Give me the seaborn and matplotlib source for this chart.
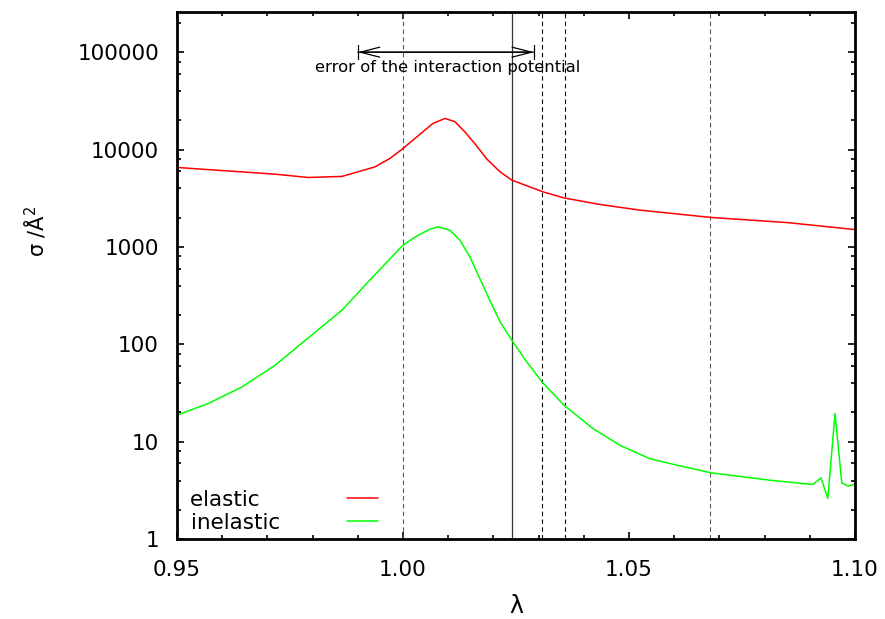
"""
Elastic / inelastic cross section vs lambda (log scale), gnuplot-style look.
"""
import numpy as np
import pandas as pd
import matplotlib
matplotlib.use('Agg')
import matplotlib.pyplot as plt
import matplotlib.ticker as mticker
import seaborn as sns

# --- Data ---
lam_el = [0.95, 0.9644, 0.9717, 0.979, 0.9865, 0.9938, 0.9971, 1.0, 1.0022,
          1.0044, 1.0066, 1.0093, 1.0115, 1.0137, 1.0159, 1.0186, 1.0215,
          1.0241, 1.031, 1.0356, 1.0436, 1.0524, 1.0681, 1.085, 1.1]
sig_el = [6550, 5900, 5590, 5170, 5300, 6640, 8100, 10260, 12500,
          15200, 18500, 20900, 19300, 15200, 11500, 7950, 5900,
          4850, 3680, 3190, 2730, 2390, 2010, 1780, 1510]

lam_in = [0.95, 0.9569, 0.9644, 0.9717, 0.979, 0.9865, 0.9923, 0.9960, 1.0,
          1.0031, 1.0060, 1.0077, 1.0104, 1.0126, 1.0148, 1.0170, 1.0192,
          1.0215, 1.0241, 1.0274, 1.0308, 1.0356, 1.0420, 1.0480, 1.0546,
          1.0606, 1.0657, 1.0681, 1.0812, 1.0907, 1.0925, 1.094, 1.0956,
          1.0971, 1.0985, 1.1]
sig_in = [18.8, 24.7, 36.6, 61, 116, 224, 438, 666, 1043,
          1300, 1524, 1610, 1487, 1175, 791, 475, 284,
          170, 110, 66, 41, 23.8, 13.7, 9.2, 6.7,
          5.75, 5.1, 4.8, 4.03, 3.64, 4.26, 2.62, 19.5,
          3.78, 3.5, 3.67]

vlines_dashed = [1.0, 1.0307, 1.0358, 1.0679]
vline_solid = 1.0241
err_range = (0.990, 1.029)
err_text = 'error of the interaction potential'

x_ticks = [0.95, 1.00, 1.05, 1.10]
y_ticks = [1, 10, 100, 1000, 10000, 100000]

sns.set_style('ticks')
plt.rcParams['font.family'] = ['DejaVu Sans']
plt.rcParams['mathtext.fontset'] = 'dejavusans'
plt.rcParams['text.color'] = 'black'
plt.rcParams['axes.labelcolor'] = 'black'

df_el = pd.DataFrame({'lam': lam_el, 'sigma': sig_el})
df_in = pd.DataFrame({'lam': lam_in, 'sigma': sig_in})

fig = plt.figure(figsize=(8.85, 6.19), dpi=100)
ax = fig.add_axes([0.2, 0.129, 0.766, 0.852])

sns.lineplot(data=df_el, x='lam', y='sigma', ax=ax, color='#ff0000',
             linewidth=1.1, label='elastic\u00a0\u00a0\u00a0', sort=False,
             estimator=None)
sns.lineplot(data=df_in, x='lam', y='sigma', ax=ax, color='#00ff00',
             linewidth=1.1, label='inelastic', sort=False, estimator=None)

for i, xv in enumerate(vlines_dashed):
    c = '#555555' if i in (0, 3) else 'black'
    ax.axvline(xv, color=c, linestyle=(0, (4, 3)), linewidth=0.8, zorder=1)
ax.axvline(vline_solid, color='#333333', linewidth=0.9, zorder=1)

# error arrow
ax.annotate('', xy=(err_range[0], 1e5), xytext=(err_range[1], 1e5),
            arrowprops=dict(arrowstyle='<->,head_length=0.7,head_width=0.18',
                            color='black', lw=0.9, shrinkA=0, shrinkB=0,
                            mutation_scale=20))
ax.annotate('', xy=(err_range[0], 1e5), xytext=(err_range[1], 1e5),
            arrowprops=dict(arrowstyle='|-|,widthA=0.25,widthB=0.25',
                            color='black', lw=0.9, shrinkA=0, shrinkB=0,
                            mutation_scale=20))
ax.text(np.mean(err_range) + 0.0003, 6.9e4, err_text, ha='center', va='center',
        fontsize=11.8)

ax.set_yscale('log')
ax.set_xlim(0.95, 1.10)
ax.set_ylim(1, 2.6e5)

ax.set_xticks(x_ticks)
ax.xaxis.set_major_formatter(mticker.FormatStrFormatter('%.2f'))
ax.xaxis.set_minor_locator(mticker.MultipleLocator(0.01))
ax.yaxis.set_major_locator(mticker.FixedLocator(y_ticks))
ax.yaxis.set_major_formatter(mticker.FixedFormatter([str(v) for v in y_ticks]))
ax.yaxis.set_minor_locator(mticker.LogLocator(base=10, subs=(2, 4, 6, 8)))
ax.yaxis.set_minor_formatter(mticker.NullFormatter())

ax.tick_params(which='both', direction='in', top=True, right=True,
               labelsize=15.5, colors='black')
ax.tick_params(which='major', length=5, width=1.2, pad=13)
ax.tick_params(axis='x', which='major', pad=15)
ax.tick_params(which='minor', length=3, width=1.2)

for sp in ax.spines.values():
    sp.set_linewidth(2)
    sp.set_color('black')

ax.set_xlabel('λ', fontsize=17, labelpad=10)
ax.set_ylabel('σ /Å$^2$', fontsize=15)
ax.yaxis.set_label_coords(-0.19, 0.583)

ax.legend(loc='lower left', bbox_to_anchor=(0.019, 0.012), frameon=False,
          markerfirst=False, fontsize=15.5, handlelength=1.44,
          handletextpad=3.1, labelspacing=0.15, borderpad=0, borderaxespad=0)

plt.savefig('out.png', dpi=100)
plt.close()
